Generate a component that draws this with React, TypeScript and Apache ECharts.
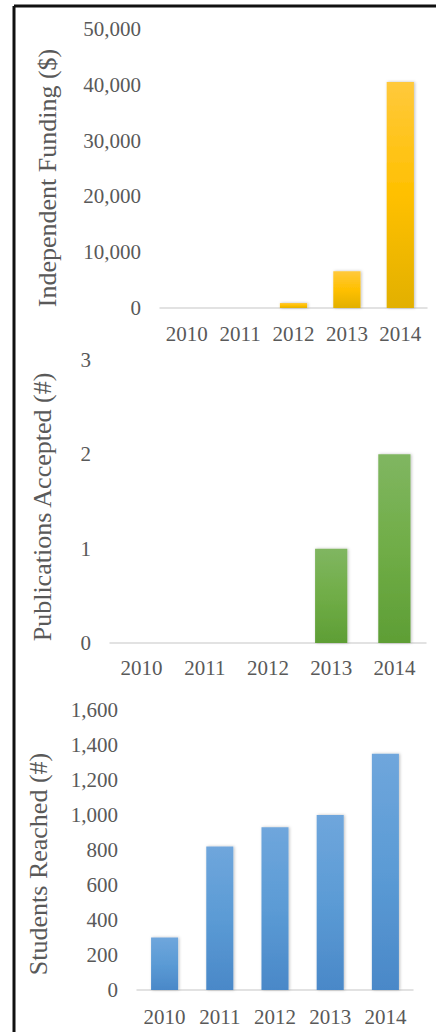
import React, { useEffect, useRef } from "react";
import * as echarts from "echarts";

const years = ["2010", "2011", "2012", "2013", "2014"];
const fundingValues = [0, 0, 900, 6600, 40500];
const publicationValues = [0, 0, 0, 1, 2];
const studentValues = [300, 820, 930, 1000, 1350];

const fundingTitle = "Independent Funding ($)";
const publicationTitle = "Publications Accepted (#)";
const studentTitle = "Students Reached (#)";

const FONT = "'Liberation Serif', 'Times New Roman', serif";
const LABEL_COLOR = "#595959";

function grad(top: string, mid: string, bottom: string) {
  return new echarts.graphic.LinearGradient(0, 0, 0, 1, [
    { offset: 0, color: top },
    { offset: 0.5, color: mid },
    { offset: 1, color: bottom },
  ]);
}

export default function App() {
  const ref = useRef<HTMLDivElement>(null);
  useEffect(() => {
    if (!ref.current) return;
    const chart = echarts.init(ref.current, undefined, { renderer: "svg" });
    const fmt = (v: number) => v.toLocaleString("en-US");
    const xAxisBase = (gridIndex: number, margin: number) => ({
      type: "category" as const,
      gridIndex,
      data: years,
      axisLine: { lineStyle: { color: "#D9D9D9", width: 1.5 } },
      axisTick: { show: false },
      axisLabel: {
        color: LABEL_COLOR,
        fontFamily: FONT,
        fontSize: 21,
        margin,
        interval: 0,
        hideOverlap: false,
      },
    });
    const yAxisBase = (gridIndex: number, max: number, interval: number) => ({
      type: "value" as const,
      gridIndex,
      min: 0,
      max,
      interval,
      splitLine: { show: false },
      axisLine: { show: false },
      axisTick: { show: false },
      axisLabel: {
        color: LABEL_COLOR,
        fontFamily: FONT,
        fontSize: 21,
        margin: 19,
        formatter: fmt,
      },
    });
    const barStyle = (color: any) => ({
      color,
      shadowColor: "rgba(0,0,0,0.25)",
      shadowBlur: 3,
      shadowOffsetX: 1,
    });
    const titleText = (text: string, x: number, y: number) => ({
      type: "text",
      x,
      y,
      rotation: Math.PI / 2,
      style: {
        text,
        fill: LABEL_COLOR,
        font: `26px ${FONT}`,
        textAlign: "center",
        textVerticalAlign: "middle",
      },
    });
    chart.setOption({
      animation: false,
      backgroundColor: "#ffffff",
      grid: [
        { left: 160, top: 29, width: 267, height: 279 },
        { left: 110, top: 360, width: 316, height: 283 },
        { left: 137, top: 710, width: 276, height: 280 },
      ],
      xAxis: [xAxisBase(0, 15), xAxisBase(1, 14), xAxisBase(2, 16)],
      yAxis: [yAxisBase(0, 50000, 10000), yAxisBase(1, 3, 1), yAxisBase(2, 1600, 200)],
      series: [
        {
          type: "bar",
          xAxisIndex: 0,
          yAxisIndex: 0,
          data: fundingValues,
          barWidth: "51%",
          itemStyle: barStyle(grad("#FFC93C", "#FFC000", "#E2B000")),
        },
        {
          type: "bar",
          xAxisIndex: 1,
          yAxisIndex: 1,
          data: publicationValues,
          barWidth: "51%",
          itemStyle: barStyle(grad("#80B661", "#70AD47", "#5E9E35")),
        },
        {
          type: "bar",
          xAxisIndex: 2,
          yAxisIndex: 2,
          data: studentValues,
          barWidth: "49%",
          itemStyle: barStyle(grad("#6FA6DC", "#5B9BD5", "#4A88C8")),
        },
      ],
      graphic: [
        {
          type: "line",
          shape: { x1: 14, y1: 6, x2: 436, y2: 6 },
          style: { stroke: "#111111", lineWidth: 3 },
        },
        {
          type: "line",
          shape: { x1: 14, y1: 6, x2: 14, y2: 1032 },
          style: { stroke: "#111111", lineWidth: 3 },
        },
        titleText(fundingTitle, 47, 178),
        titleText(publicationTitle, 42, 507),
        titleText(studentTitle, 38, 864),
      ],
    });
    return () => chart.dispose();
  }, []);
  return (
    <div
      ref={ref}
      style={{ position: "fixed", left: 0, top: 0, width: 436, height: 1032 }}
    />
  );
}
